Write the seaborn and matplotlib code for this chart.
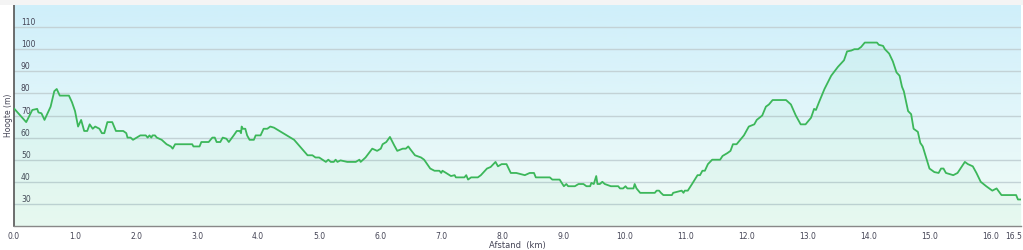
import numpy as np
import pandas as pd
import matplotlib
matplotlib.use("Agg")
import matplotlib.pyplot as plt
import seaborn as sns
from matplotlib.colors import LinearSegmentedColormap
from matplotlib.transforms import ScaledTranslation

distance_km = [0.00, 0.20, 0.30, 0.38, 0.40, 0.45, 0.50, 0.60, 0.66, 0.70, 0.75, 0.90, 0.95, 1.00,
               1.05, 1.10, 1.15, 1.20, 1.24, 1.29, 1.33, 1.40, 1.44, 1.48, 1.53, 1.61, 1.67, 1.79,
               1.84, 1.86, 1.91, 1.95, 2.01, 2.07, 2.16, 2.19, 2.22, 2.25, 2.27, 2.31, 2.34, 2.42,
               2.50, 2.57, 2.60, 2.64, 2.92, 2.94, 3.04, 3.07, 3.19, 3.25, 3.29, 3.32, 3.38, 3.42,
               3.48, 3.52, 3.60, 3.65, 3.70, 3.72, 3.73, 3.75, 3.79, 3.82, 3.86, 3.93, 3.96, 4.04,
               4.09, 4.15, 4.20, 4.26, 4.59, 4.81, 4.89, 4.94, 5.00, 5.11, 5.15, 5.19, 5.24, 5.27,
               5.30, 5.35, 5.46, 5.60, 5.66, 5.68, 5.76, 5.87, 5.95, 6.01, 6.04, 6.10, 6.16, 6.23,
               6.28, 6.37, 6.42, 6.46, 6.50, 6.57, 6.67, 6.72, 6.77, 6.82, 6.89, 6.97, 7.00, 7.02,
               7.08, 7.16, 7.22, 7.24, 7.38, 7.41, 7.44, 7.49, 7.60, 7.65, 7.75, 7.81, 7.89, 7.93,
               7.99, 8.07, 8.14, 8.23, 8.37, 8.45, 8.52, 8.55, 8.78, 8.82, 8.94, 9.01, 9.05, 9.08,
               9.19, 9.25, 9.33, 9.38, 9.44, 9.46, 9.50, 9.54, 9.56, 9.60, 9.64, 9.68, 9.78, 9.90,
               9.93, 9.98, 10.02, 10.05, 10.15, 10.17, 10.20, 10.26, 10.50, 10.53, 10.57, 10.60,
               10.64, 10.78, 10.80, 10.94, 10.97, 10.99, 11.04, 11.11, 11.20, 11.24, 11.28, 11.32,
               11.37, 11.44, 11.57, 11.61, 11.69, 11.74, 11.78, 11.84, 11.90, 11.96, 12.04, 12.13,
               12.17, 12.26, 12.32, 12.37, 12.43, 12.65, 12.73, 12.81, 12.89, 12.97, 13.06, 13.11,
               13.14, 13.19, 13.28, 13.39, 13.50, 13.60, 13.65, 13.72, 13.77, 13.83, 13.88, 13.94,
               14.14, 14.17, 14.24, 14.27, 14.34, 14.40, 14.46, 14.51, 14.55, 14.58, 14.65, 14.70,
               14.74, 14.81, 14.85, 14.89, 15.00, 15.08, 15.15, 15.19, 15.23, 15.27, 15.39, 15.46,
               15.58, 15.63, 15.71, 15.77, 15.84, 15.93, 16.03, 16.10, 16.18, 16.42, 16.45, 16.50]
elevation_m = [73.2, 67, 72.5, 73, 71.4, 71, 68, 74, 81, 82, 79, 79, 76, 72,
               65, 68, 63, 63, 66, 64, 65, 64, 62, 62, 67, 67, 63, 63,
               62, 60, 60, 59, 60, 61, 61, 60, 61, 60, 61, 61, 60, 59,
               57, 56, 55, 57, 57, 56, 56, 58, 58, 60, 60, 58, 58, 60,
               59.5, 58, 61, 63, 63, 62, 65, 64, 64, 61, 59, 59, 61, 61,
               64, 64, 65, 64.5, 59, 52, 52, 51, 51, 49, 50, 49, 49, 50,
               49, 49.7, 49, 49, 50, 49, 51, 55, 54, 55, 57, 58, 60.3, 56.5,
               54, 55, 55, 56, 54.5, 52, 51, 50, 48, 46, 45, 45, 44, 45,
               44, 42.6, 43, 42, 42, 43, 41, 42, 42, 43, 46, 46.7, 49, 47,
               48, 48, 44, 44, 43, 44, 44, 42, 42, 41, 41, 38, 39, 38,
               38, 39, 39, 38, 38, 39.5, 39, 42.6, 39, 39, 40, 39, 38, 38,
               37, 37, 38, 37, 37, 39, 37, 35, 35, 36, 36, 35,
               34, 34, 35, 36, 35, 36, 36, 39, 43, 43, 45, 45,
               48, 50, 50, 51.7, 53, 54, 57, 57, 59, 61, 65, 66,
               68, 70, 74, 75, 77, 77, 75, 70, 66, 66, 69, 73,
               72.5, 76, 82, 88, 92, 95, 99, 99.4, 100, 100, 101, 103,
               103, 102, 101.5, 100, 98, 94.5, 89.5, 88, 83, 81, 72, 70.6,
               64, 62.6, 57.6, 56, 46, 44.4, 44, 46, 46, 44, 43, 44,
               49, 48, 47, 44, 40, 38, 36, 37, 34, 34, 32, 32]

x_ticks = [0.0, 1.0, 2.0, 3.0, 4.0, 5.0, 6.0, 7.0, 8.0, 9.0, 10.0, 11.0, 12.0, 13.0, 14.0, 15.0, 16.0, 16.5]
y_ticks = [30, 40, 50, 60, 70, 80, 90, 100, 110]

df = pd.DataFrame({"Afstand": distance_km, "Hoogte": elevation_m})

sns.set_theme(style="white")
plt.rcParams['font.family'] = ['DejaVu Sans']

fig = plt.figure(figsize=(10.23, 2.5), dpi=100)
fig.patch.set_facecolor("white")
fig.add_artist(plt.Rectangle((0, 1 - 5 / 250), 1, 5 / 250, transform=fig.transFigure,
                             facecolor="#f4f4f4", edgecolor="none"))
ax = fig.add_axes([14 / 1023, 24 / 250, 1007 / 1023, 221 / 250])

xmin, xmax, ymin, ymax = 0.0, 16.5, 20, 120
cmap = LinearSegmentedColormap.from_list("bg", ["#cfeffa", "#e2f6fa", "#f1fcf5"])
grad = np.linspace(0, 1, 256).reshape(-1, 1)
ax.imshow(grad, cmap=cmap, aspect="auto", extent=[xmin, xmax, ymin, ymax],
          origin="upper", zorder=0)

for yt in y_ticks:
    ax.axhline(yt, color="#c3d2d6", lw=1.0, zorder=1)

ax.fill_between(df["Afstand"], df["Hoogte"], ymin, color="#3dd080", alpha=0.05, lw=0, zorder=2)
sns.lineplot(data=df, x="Afstand", y="Hoogte", ax=ax, color="#3cb75a", lw=1.3, zorder=3)

ax.set_xlim(xmin, xmax)
ax.set_ylim(ymin, ymax)
ax.set_xticks(x_ticks)
ax.set_xticklabels([f"{t:.1f}" for t in x_ticks], fontsize=5.5, color="#444455")
ax.set_yticks(y_ticks)
ax.set_yticklabels([str(t) for t in y_ticks], fontsize=5.5, color="#444455")
ax.tick_params(axis="x", direction="out", length=3, width=0.8, color="#888888", pad=1.5)
ax.tick_params(axis="y", length=0, pad=-5)
for lbl in ax.get_yticklabels():
    lbl.set_horizontalalignment("left")
    lbl.set_verticalalignment("bottom")
last = ax.get_xticklabels()[-1]
last.set_horizontalalignment("right")
last.set_transform(last.get_transform() + ScaledTranslation(1 / 100, 0, fig.dpi_scale_trans))

ax.set_xlabel("Afstand  (km)", fontsize=6, color="#444455", labelpad=0)
ax.set_ylabel("Hoogte (m)", fontsize=5.5, color="#444455", labelpad=1)

for s in ["top", "right"]:
    ax.spines[s].set_visible(False)
ax.spines["left"].set_color("#555555")
ax.spines["left"].set_linewidth(1.2)
ax.spines["bottom"].set_color("#888888")
ax.spines["bottom"].set_linewidth(1.0)

fig.savefig("out.png", dpi=100)
